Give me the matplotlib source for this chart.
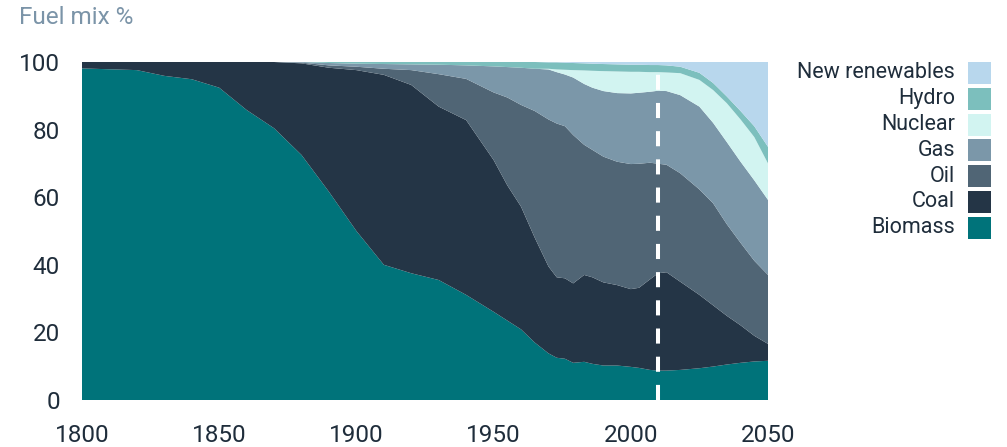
import numpy as np
import matplotlib
matplotlib.use("Agg")
import matplotlib.pyplot as plt
from matplotlib.patches import Rectangle

plt.rcParams['font.family'] = ['Roboto', 'DejaVu Sans']

years = [1800, 1820, 1830, 1840, 1850, 1860, 1870, 1880, 1890, 1900,
         1910, 1920, 1930, 1940, 1950, 1955, 1960, 1965, 1970, 1973,
         1976, 1979, 1983, 1986, 1990, 1995, 2000, 2003, 2007, 2010,
         2013, 2018, 2025, 2030, 2035, 2040, 2045, 2050]

biomass = [98.1, 97.6, 95.9, 94.9, 92.4, 85.8, 80.4, 72.5, 61.6, 50.0,
           40.0, 37.5, 35.5, 31.1, 26.1, 23.5, 20.9, 17.0, 13.8, 12.5,
           12.2, 11.0, 11.3, 10.7, 10.2, 10.2, 9.8, 9.5, 8.9, 8.7,
           8.7, 8.9, 9.4, 9.9, 10.5, 11.0, 11.4, 11.6]
coal = [1.9, 2.4, 4.1, 5.1, 7.6, 14.2, 19.6, 27.1, 36.7, 47.6,
        56.2, 55.7, 51.3, 51.7, 44.9, 40.0, 36.3, 31.0, 25.7, 23.8,
        23.8, 23.5, 25.7, 25.6, 24.6, 23.8, 23.0, 23.7, 26.8, 28.8,
        29.1, 26.1, 21.7, 18.1, 14.4, 11.1, 7.6, 5.0]
oil = [0, 0, 0, 0, 0, 0, 0, 0.2, 0.7, 1.0,
       1.8, 4.4, 9.6, 12.2, 20.0, 26.0, 30.1, 37.5, 43.5, 45.5,
       45.0, 43.9, 38.5, 37.7, 37.2, 36.5, 37.0, 36.7, 34.5, 32.4,
       31.8, 32.1, 31.2, 30.2, 27.1, 24.4, 22.2, 20.4]
gas = [0, 0, 0, 0, 0, 0, 0, 0.2, 0.7, 0.9,
       1.4, 1.7, 2.8, 4.0, 7.7, 9.0, 11.0, 12.5, 14.8, 15.2,
       15.3, 17.0, 18.0, 18.4, 19.4, 20.3, 20.9, 21.0, 21.0, 21.6,
       21.8, 23.1, 24.5, 23.8, 24.3, 24.0, 23.8, 22.2]
nuclear = [0, 0, 0, 0, 0, 0, 0, 0, 0, 0,
           0, 0, 0, 0, 0, 0, 0, 0, 0.2, 0.8,
           1.4, 2.2, 4.0, 5.0, 5.9, 6.4, 6.4, 6.2, 5.8, 5.5,
           5.5, 6.5, 7.9, 9.7, 11.5, 12.5, 12.8, 10.8]
hydro = [0, 0, 0, 0, 0, 0, 0, 0, 0.3, 0.5,
         0.6, 0.7, 0.8, 1.0, 1.3, 1.5, 1.7, 2.0, 1.9, 2.1,
         2.1, 2.1, 2.1, 2.1, 2.1, 2.1, 2.1, 2.1, 2.1, 2.1,
         2.1, 1.9, 2.1, 2.1, 2.0, 2.5, 3.2, 4.9]
new_renewables = [0, 0, 0, 0, 0, 0, 0, 0, 0, 0,
                  0, 0, 0, 0, 0, 0, 0, 0, 0.1, 0.1,
                  0.2, 0.3, 0.4, 0.5, 0.6, 0.7, 0.8, 0.8, 0.9, 0.9,
                  1.0, 1.4, 3.2, 6.2, 10.2, 14.5, 19.0, 25.1]

labels = ['Biomass', 'Coal', 'Oil', 'Gas', 'Nuclear', 'Hydro', 'New renewables']
colors = ['#00737a', '#243546', '#506575', '#7b97a9', '#d2f4f1', '#7cbfbd', '#b8d7ed']
x_ticks = [1800, 1850, 1900, 1950, 2000, 2050]
y_ticks = [0, 20, 40, 60, 80, 100]
split_year = 2010

text_col = '#1f2d3b'

fig = plt.figure(figsize=(10.07, 4.47), dpi=100)
ax = fig.add_axes([82 / 1007, 47 / 447, 686 / 1007, 338 / 447])

ax.stackplot(years, biomass, coal, oil, gas, nuclear, hydro, new_renewables,
             colors=colors, linewidth=0)
ax.axvline(split_year, color='white', lw=2.9, dashes=(3.75, 3.25))

ax.set_xlim(1800, 2050)
ax.set_ylim(0, 100)
ax.set_xticks(x_ticks)
ax.set_yticks(y_ticks)
for s in ax.spines.values():
    s.set_visible(False)
ax.tick_params(axis='both', length=0, labelsize=17.5, labelcolor=text_col)
ax.tick_params(axis='y', pad=16)
ax.tick_params(axis='x', pad=17)

fig.text(19 / 1007, 1 - 17 / 447, 'Fuel mix %', color='#7b94a8',
         fontsize=17.5, va='center', ha='left')

# legend drawn by hand: labels right-aligned, swatch after the text
row_top = 62
pitch = 25.8
for i, (lab, col) in enumerate(zip(labels[::-1], colors[::-1])):
    y0 = row_top + i * pitch
    fig.patches.append(Rectangle((968 / 1007, 1 - (y0 + 22) / 447), 23 / 1007, 22 / 447,
                                 transform=fig.transFigure, facecolor=col,
                                 edgecolor='none'))
    fig.text(955 / 1007, 1 - (y0 + 11) / 447, lab, color=text_col, fontsize=15.5,
             ha='right', va='center')

fig.savefig('out.png', dpi=100)
